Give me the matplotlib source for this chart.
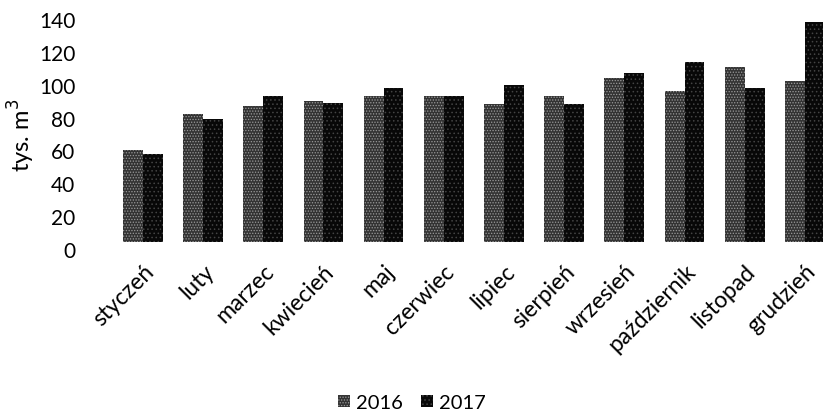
import numpy as np
import matplotlib.pyplot as plt
from matplotlib.patches import Patch

plt.rcParams['font.family'] = ['Lato', 'DejaVu Sans']
plt.rcParams['hatch.linewidth'] = 0.6

months = ['styczeń', 'luty', 'marzec', 'kwiecień', 'maj', 'czerwiec',
          'lipiec', 'sierpień', 'wrzesień', 'październik', 'listopad', 'grudzień']
values_2016 = [56, 78, 83, 86, 89, 89, 84, 89, 100, 92, 107, 98]
values_2017 = [54, 75, 89, 85, 94, 89, 96, 84, 103, 110, 94, 134]
yticks = [0, 20, 40, 60, 80, 100, 120, 140]

fig = plt.figure(figsize=(8.23, 4.14), dpi=100)
ax = fig.add_axes([0.115, 0.396, 0.885, 0.556])

x = np.arange(len(months))
w = 0.33
base = 4  # 3D depth offset of the original

c16, h16 = '#333333', '#9a9a9a'
c17, h17 = '#080808', '#444444'

ax.bar(x - w / 2, values_2016, w, bottom=base, color=c16,
       edgecolor=h16, hatch='......', linewidth=0, label='2016')
ax.bar(x + w / 2, values_2017, w, bottom=base, color=c17,
       edgecolor=h17, hatch='....', linewidth=0, label='2017')

ax.set_ylim(0, 140)
ax.set_xlim(-0.8, 11.3)
ax.set_yticks(yticks)
ax.set_xticks(x)
ax.set_xticklabels(months, rotation=45, ha='right', va='top',
                   rotation_mode='anchor', fontsize=16.5)
ax.tick_params(axis='y', labelsize=15, length=0, pad=14)
ax.tick_params(axis='x', length=0, pad=8)
for s in ax.spines.values():
    s.set_visible(False)
ax.set_ylabel('tys. m$^3$', fontsize=17, labelpad=1)

handles = [Patch(facecolor=c16, edgecolor=h16, hatch='......', linewidth=0),
           Patch(facecolor=c17, edgecolor=h17, hatch='....', linewidth=0)]
fig.legend(handles, ['2016', '2017'], loc='center', bbox_to_anchor=(0.5, 0.025),
           ncol=2, frameon=False, fontsize=14.5, handlelength=0.6, handleheight=0.6,
           handletextpad=0.3, columnspacing=0.9)

fig.savefig('out.png', dpi=100)
